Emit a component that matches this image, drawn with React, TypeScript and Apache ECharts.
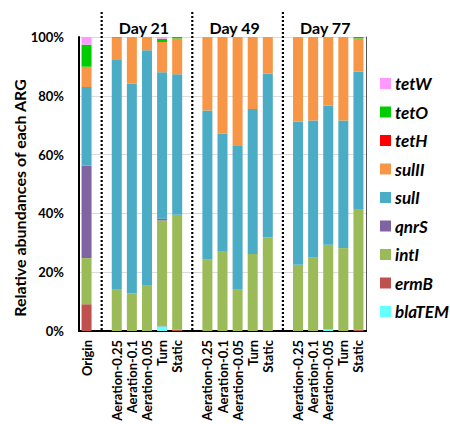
import React, { useEffect, useRef } from "react";
import * as echarts from "echarts";

const categories = [
  "Origin", "",
  "Aeration-0.25", "Aeration-0.1", "Aeration-0.05", "Turn", "Static", " ",
  "Aeration-0.25", "Aeration-0.1", "Aeration-0.05", "Turn", "Static", "  ",
  "Aeration-0.25", "Aeration-0.1", "Aeration-0.05", "Turn", "Static",
];
const gapIndices = [1, 7, 13];
const dayLabels = ["Day 21", "Day 49", "Day 77"];
const dayCenters = [4, 10, 16];
const yTicks = [0, 20, 40, 60, 80, 100];

const blaTEM = [0, null, 0, 0, 0, 1.6, 0, null, 0, 0, 0, 0, 0, null, 0, 0, 0.5, 0, 0];
const ermB = [9.1, null, 0, 0, 0, 0.3, 0.5, null, 0, 0, 0, 0, 0, null, 0, 0, 0, 0, 0.5];
const intI = [15.7, null, 14.0, 12.8, 15.6, 35.7, 39.0, null, 24.2, 27.2, 14.0, 26.2, 31.9, null, 22.5, 25.1, 28.8, 28.2, 40.7];
const qnrS = [31.5, null, 0, 0, 0, 0.6, 0, null, 0, 0, 0, 0, 0, null, 0, 0, 0, 0, 0];
const sulI = [26.7, null, 78.4, 71.3, 79.9, 49.8, 47.8, null, 50.8, 40.0, 48.9, 49.3, 55.6, null, 48.8, 46.5, 47.4, 43.4, 47.1];
const sulII = [6.9, null, 7.4, 15.9, 4.5, 10.3, 12.2, null, 25.0, 32.8, 37.1, 24.5, 12.5, null, 28.7, 28.4, 23.3, 28.4, 11.2];
const tetH = [0, null, 0, 0, 0, 0, 0, null, 0, 0, 0, 0, 0, null, 0, 0, 0, 0, 0];
const tetO = [7.5, null, 0.2, 0, 0, 1.1, 0.5, null, 0, 0, 0, 0, 0, null, 0, 0, 0, 0, 0.5];
const tetW = [2.6, null, 0, 0, 0, 0.6, 0, null, 0, 0, 0, 0, 0, null, 0, 0, 0, 0, 0];

const seriesDefs = [
  { name: "blaTEM", data: blaTEM, color: "#66FFFF" },
  { name: "ermB", data: ermB, color: "#C0504D" },
  { name: "intI", data: intI, color: "#9BBB59" },
  { name: "qnrS", data: qnrS, color: "#8064A2" },
  { name: "sulI", data: sulI, color: "#4BACC6" },
  { name: "sulII", data: sulII, color: "#F79646" },
  { name: "tetH", data: tetH, color: "#FF0000" },
  { name: "tetO", data: tetO, color: "#00CC00" },
  { name: "tetW", data: tetW, color: "#FF99FF" },
];

const FONT = "Lato, 'Liberation Sans', sans-serif";

export default function App() {
  const ref = useRef<HTMLDivElement>(null);
  useEffect(() => {
    if (!ref.current) return;
    const chart = echarts.init(ref.current, null, { renderer: "svg" });
    const option: any = {
      animation: false,
      backgroundColor: "#fff",
      grid: { left: 79, right: 84, top: 37, bottom: 93 },
      legend: {
        orient: "vertical",
        left: 375,
        top: 70,
        icon: "rect",
        itemWidth: 11,
        itemHeight: 11,
        itemGap: 11.5,
        data: seriesDefs.map((s) => s.name).reverse(),
        textStyle: {
          fontFamily: FONT,
          fontStyle: "italic",
          fontWeight: "bold",
          fontSize: 17,
          lineHeight: 16,
          color: "#000",
          padding: [0, 0, 0, -1],
        },
      },
      xAxis: [
        {
          type: "category",
          data: categories,
          axisTick: { show: false },
          axisLine: { lineStyle: { color: "#000", width: 2 } },
          axisLabel: {
            interval: 0,
            rotate: 90,
            margin: 9,
            fontFamily: FONT,
            fontWeight: "bold",
            fontSize: 13,
            color: "#000",
          },
        },
        {
          type: "category",
          position: "top",
          data: categories,
          axisTick: { show: false },
          axisLabel: { show: false },
          axisLine: { lineStyle: { color: "#000", width: 2 } },
        },
      ],
      yAxis: [
        {
          type: "value",
          min: yTicks[0],
          max: yTicks[yTicks.length - 1],
          interval: 20,
          axisLine: { show: true, lineStyle: { color: "#000", width: 2 } },
          axisTick: { show: false },
          splitLine: { lineStyle: { color: "#dcdcdc", width: 1 } },
          axisLabel: {
            formatter: "{value}%",
            margin: 15,
            fontFamily: FONT,
            fontWeight: "bold",
            fontSize: 13,
            color: "#000",
          },
        },
        {
          type: "value",
          position: "right",
          min: 0,
          max: 100,
          interval: 20,
          axisLine: { show: true, lineStyle: { color: "#555", width: 1 } },
          axisTick: { show: false },
          axisLabel: { show: false },
          splitLine: { show: false },
        },
      ],
      series: seriesDefs.map((s) => ({
        name: s.name,
        type: "bar",
        stack: "total",
        barWidth: 10,
        data: s.data,
        itemStyle: { color: s.color },
      })),
    };
    chart.setOption(option);

    const graphics: any[] = [];
    gapIndices.forEach((gi) => {
      const x = chart.convertToPixel({ xAxisIndex: 0 }, gi) as number;
      graphics.push({
        type: "line",
        shape: { x1: x, y1: 12, x2: x, y2: 331 },
        style: { stroke: "#000", lineWidth: 2.2, lineDash: [2, 2] },
        z: 10,
      });
    });
    dayCenters.forEach((ci, k) => {
      const x = chart.convertToPixel({ xAxisIndex: 0 }, ci) as number;
      graphics.push({
        type: "text",
        x: x - 3,
        y: 27,
        style: {
          text: dayLabels[k],
          font: `bold 16px ${FONT}`,
          fill: "#000",
          align: "center",
          verticalAlign: "middle",
        },
        z: 10,
      });
    });
    graphics.push({
      type: "text",
      x: 19,
      y: 198,
      rotation: Math.PI / 2,
      style: {
        text: "Relative abundances of each ARG",
        font: `bold 16px ${FONT}`,
        fill: "#000",
        align: "center",
        verticalAlign: "middle",
      },
    });
    chart.setOption({ graphic: graphics });

    return () => chart.dispose();
  }, []);
  return (
    <div
      ref={ref}
      style={{ position: "absolute", left: 0, top: 0, width: 450, height: 424 }}
    />
  );
}
